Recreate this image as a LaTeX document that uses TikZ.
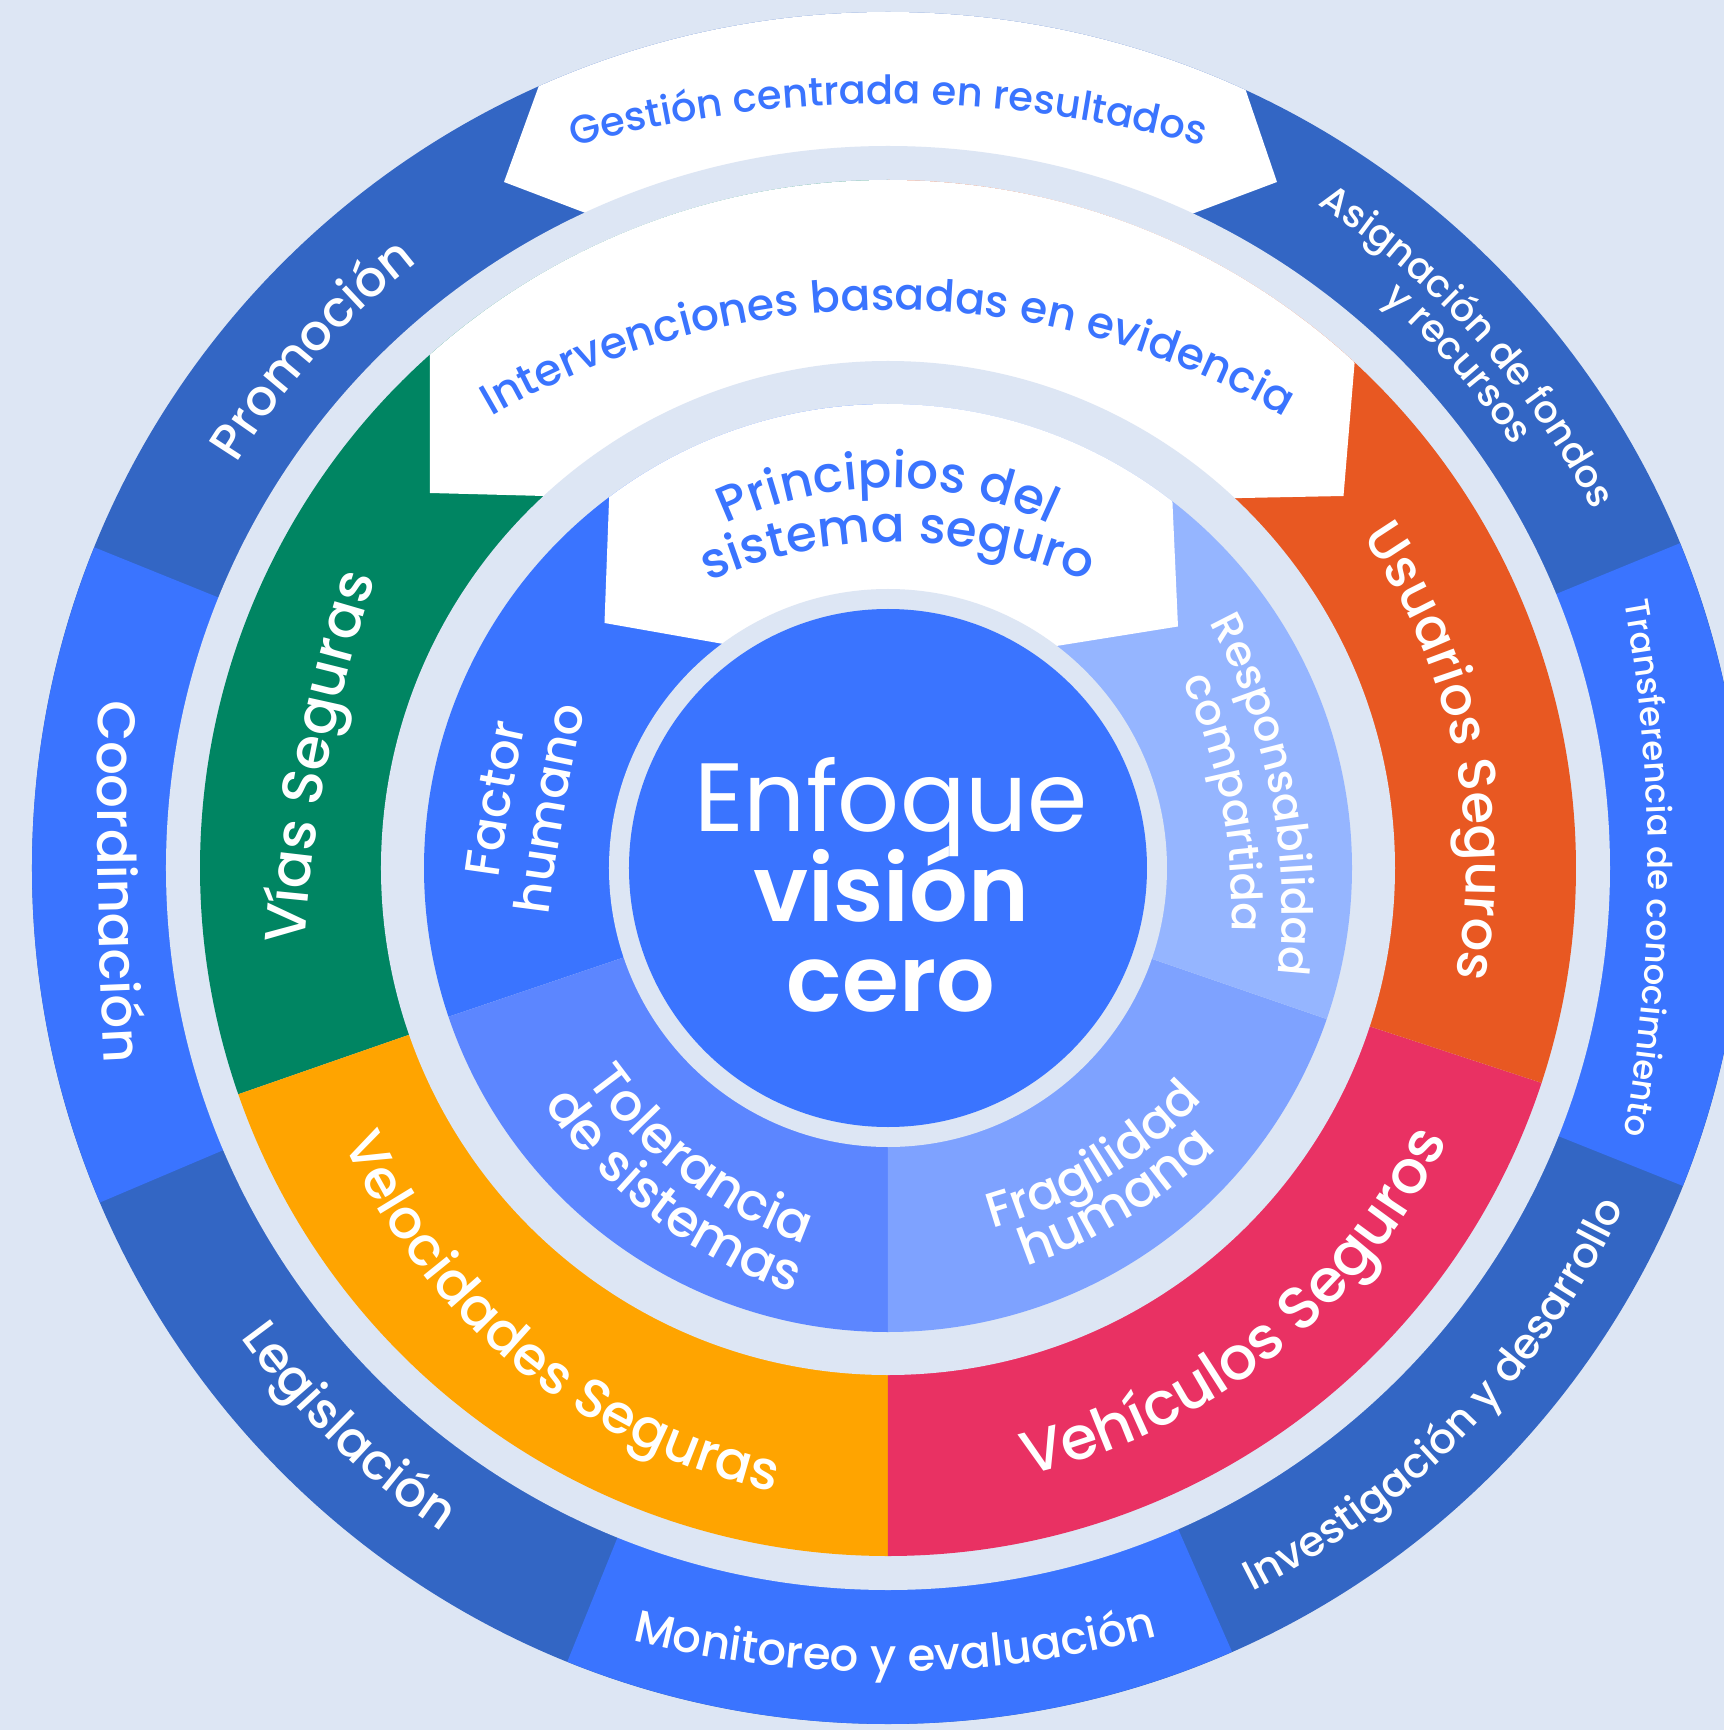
\documentclass[tikz,border=0pt]{standalone}
\usepackage{fontspec}
\IfFontExistsTF{Poppins Medium}{\setmainfont{Poppins Medium}}{\setmainfont{Poppins}}
\IfFontExistsTF{Poppins SemiBold}{\newfontfamily\semibf{Poppins SemiBold}}{\newfontfamily\semibf{Poppins}}
\newfontfamily\regf{Poppins}
\usetikzlibrary{decorations.text}
\definecolor{bgc}{RGB}{221,230,244}
\definecolor{dblue}{RGB}{51,102,196}
\definecolor{bblue}{RGB}{58,116,255}
\definecolor{vgreen}{RGB}{0,133,98}
\definecolor{uorange}{RGB}{232,88,34}
\definecolor{vyellow}{RGB}{255,164,0}
\definecolor{vpink}{RGB}{233,49,99}
\definecolor{itol}{RGB}{92,134,255}
\definecolor{ifra}{RGB}{126,162,255}
\definecolor{ires}{RGB}{149,181,255}
\newcommand\piesl[4]{\fill[#1] (0,0) -- (#2:#4pt) arc[start angle=#2, end angle=#3, radius=#4pt] -- cycle;}
% #1 centre angle, #2 baseline radius at midpoint, #3 arc radius, #4 half span, #5 size, #6 colour, #7 text
% clockwise text (letter tops outward)
\newcommand\cwtext[7]{\begin{scope}[shift={({#1}:{#2-#3})}]
  \path[decorate,decoration={text along path,text align=center,text={|\fontsize{#5}{#5}\selectfont\color{#6}|#7}}]
  ({#1+#4}:#3pt) arc[start angle={#1+#4}, end angle={#1-#4}, radius=#3pt];\end{scope}}
% counter-clockwise text (letter tops inward)
\newcommand\ccwtext[7]{\begin{scope}[shift={({#1}:{#2-#3})}]
  \path[decorate,decoration={text along path,text align=center,text={|\fontsize{#5}{#5}\selectfont\color{#6}|#7}}]
  ({#1-#4}:#3pt) arc[start angle={#1-#4}, end angle={#1+#4}, radius=#3pt];\end{scope}}
% counter-clockwise text with explicit baseline midpoint (#1,#2) and orientation #3
\newcommand\ccwtextat[8]{\begin{scope}[shift={(#1,#2)}]\begin{scope}[shift={({#3}:{-#4})}]
  \path[decorate,decoration={text along path,text align=center,text={|\fontsize{#6}{#6}\selectfont\color{#7}|#8}}]
  ({#3-#5}:#4pt) arc[start angle={#3-#5}, end angle={#3+#5}, radius=#4pt];\end{scope}\end{scope}}
\begin{document}
\begin{tikzpicture}[x=1pt,y=1pt]
\useasboundingbox (-888,-862) rectangle (836,868);
\fill[bgc] (-888,-862) rectangle (836,868);
% outer ring
\fill[dblue] (0,0) circle[radius=856pt];
\piesl{bblue}{158}{203}{856}
\piesl{bblue}{248}{293.7}{856}
\piesl{bblue}{338.2}{382.3}{856}
\begin{scope}
\clip (0,0) circle[radius=856pt];
\fill[white] (-318,868) -- (-384,686) -- (0,540) -- (389,686) -- (327,868) -- cycle;
\end{scope}
\fill[bgc] (0,0) circle[radius=722pt];
% middle ring
\piesl{vgreen}{90}{199.2}{688}
\piesl{vyellow}{199.2}{270}{688}
\piesl{vpink}{270}{341.8}{688}
\piesl{uorange}{341.8}{450}{688}
\begin{scope}
\clip (0,0) circle[radius=688pt];
\fill[white] (-458,768) -- (-458,375) -- (0,363) -- (455.5,372) -- (488.5,768) -- cycle;
\end{scope}
\fill[bgc] (0,0) circle[radius=507pt];
% inner ring
\piesl{bblue}{90}{198.7}{464}
\piesl{itol}{198.7}{270}{464}
\piesl{ifra}{270}{341}{464}
\piesl{ires}{341}{450}{464}
\begin{scope}
\clip (0,0) circle[radius=464pt];
\fill[white] (-274.5,488) -- (-283.5,245) -- (0,195) -- (290,241.5) -- (279,488) -- cycle;
\end{scope}
\fill[bgc] (0,0) circle[radius=279pt];
\fill[bblue] (0,0) circle[radius=259pt];
% centre text
\node[anchor=base,text=white,font=\regf\fontsize{97}{97}\selectfont,inner sep=0pt] (enfoque) at (3,37) {Enfoque};
\node[anchor=base,text=white,font=\semibf\fontsize{92}{92}\selectfont,inner sep=0pt] (vision) at (3,-53) {visión};
\node[anchor=base,text=white,font=\semibf\fontsize{92}{92}\selectfont,inner sep=0pt] (cero) at (3,-143) {cero};
% outer ring labels
\cwtext{90}{764}{1189}{40}{40}{bblue}{Gestión centrada en resultados}
\cwtext{138}{767}{767}{40}{50}{white}{Promoción}
\ccwtext{181}{790}{5000}{5}{53}{white}{Coordinación}
\ccwtext{226}{800}{800}{40}{50}{white}{Legislación}
\ccwtext{270.5}{804}{1040}{35}{45}{white}{Monitoreo y evaluación}
\ccwtext{316}{810}{810}{40}{42}{white}{Investigación y desarrollo}
\cwtext{0}{760}{1500}{25}{34}{white}{Transferencia de conocimiento}
\cwtext{42}{790}{790}{40}{38}{white}{Asignación de fondos}
\cwtext{41.5}{754}{754}{40}{38}{white}{y recursos}
% middle ring labels
\cwtext{90}{558}{787}{45}{44}{bblue}{Intervenciones basadas en evidencia}
\cwtext{169}{570}{1500}{20}{57}{white}{Vías Seguras}
\cwtext{12}{578}{578}{50}{53}{white}{Usuarios Seguros}
\ccwtextat{-370.7}{-500.6}{231}{612}{60}{54}{white}{Velocidades Seguras}
\ccwtext{308.5}{623}{623}{60}{60}{white}{Vehículos Seguros}
% inner ring labels
\cwtext{90}{380}{380}{60}{50}{bblue}{Principios del}
\begin{scope}[xshift=10pt]
\cwtext{90}{326}{475}{50}{50}{bblue}{sistema seguro}
\end{scope}
\cwtext{170}{383}{2000}{10}{49}{white}{Factor}
\cwtext{170}{329}{2000}{10}{49}{white}{humano}
\cwtext{11}{390}{600}{40}{43}{white}{Responsabilidad}
\cwtext{11}{340}{550}{40}{43}{white}{compartida}
\ccwtextat{-205}{-311}{233}{450}{60}{52}{white}{Tolerancia}
\ccwtextat{-234.8}{-350.9}{233}{500}{60}{52}{white}{de sistemas}
\ccwtextat{218.5}{-310.4}{301.5}{450}{60}{49}{white}{Fragilidad}
\ccwtextat{240.3}{-350.1}{301.5}{500}{60}{52}{white}{humana}
\end{tikzpicture}
\end{document}
